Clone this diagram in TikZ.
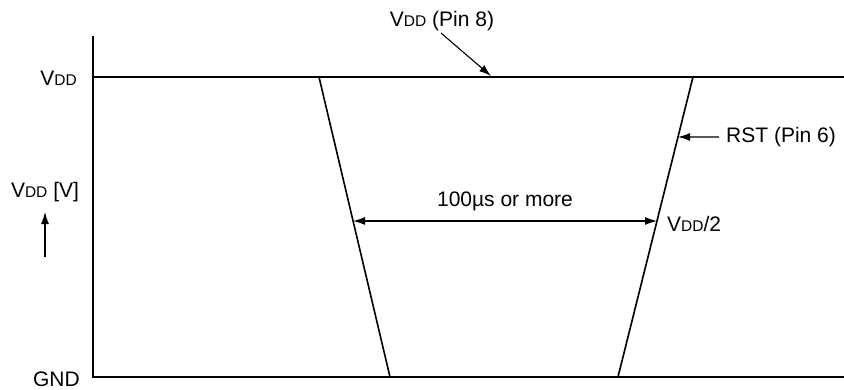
\documentclass[tikz,border=0pt]{standalone}
\usepackage{fontspec}
\setmainfont{Liberation Sans}
\usetikzlibrary{arrows.meta,calc}
\newcommand{\vdd}{V{\fontsize{15.5}{15.5}\selectfont DD}}
\begin{document}
\begin{tikzpicture}[x=1pt,y=1pt,
  lbl/.style={inner sep=0pt,font=\fontsize{21}{23}\selectfont},
  axisline/.style={line width=2pt},
  edge/.style={line width=1.6pt},
  arr/.style={line width=1.1pt,-{Latex[length=12pt,width=8pt]}},
  darr/.style={line width=1.1pt,{Latex[length=12pt,width=8pt]}-{Latex[length=12pt,width=8pt]}}]
\useasboundingbox (0,0) rectangle (844,389);
% axes
\coordinate (ytop) at (93,353);
\coordinate (orig) at (93,12);
\coordinate (xend) at (844,12);
\draw[axisline] (ytop) -- (orig) -- (xend);
% VDD level
\coordinate (vl) at (93,312);
\coordinate (vr) at (844,312);
\draw[line width=2.7pt] (vl) -- (vr);
% edges
\coordinate (fa) at (319,312);
\coordinate (fb) at (390,12);
\coordinate (ra) at (693,312);
\coordinate (rb) at (618,12);
\draw[edge] (fa) -- (fb);
\draw[edge] (rb) -- (ra);
% pulse width arrow
\coordinate (pl) at ($(fa)!0.48!(fb)$);
\coordinate (pr) at ($(ra)!0.48!(rb)$);
\draw[darr] (pl) -- (pr);
\node[lbl] (pw) at (505,188) {100µs or more};
\node[lbl,anchor=west] (half) at (667,165) {\vdd/2};
% RST label
\coordinate (rsttip) at ($(ra)!0.2!(rb)$);
\coordinate (rsttail) at (719,252);
\draw[arr] (rsttail) -- (rsttip);
\node[lbl,anchor=west] (rst) at (726,252) {RST (Pin 6)};
% VDD pin label
\node[lbl] (vpin) at (442,368) {\vdd{} (Pin 8)};
\coordinate (vtail) at (441,356);
\coordinate (vtip) at (491,313);
\draw[arr] (vtail) -- (vtip);
% left labels
\node[lbl,anchor=east] (vddl) at (77,311) {\vdd};
\node[lbl] (vddv) at (45,197) {\vdd{} [V]};
\coordinate (ua) at (45,132);
\coordinate (ub) at (45,177);
\draw[arr] (ua) -- (ub);
\node[lbl,anchor=east] (gnd) at (80,10) {GND};
\end{tikzpicture}
\end{document}
